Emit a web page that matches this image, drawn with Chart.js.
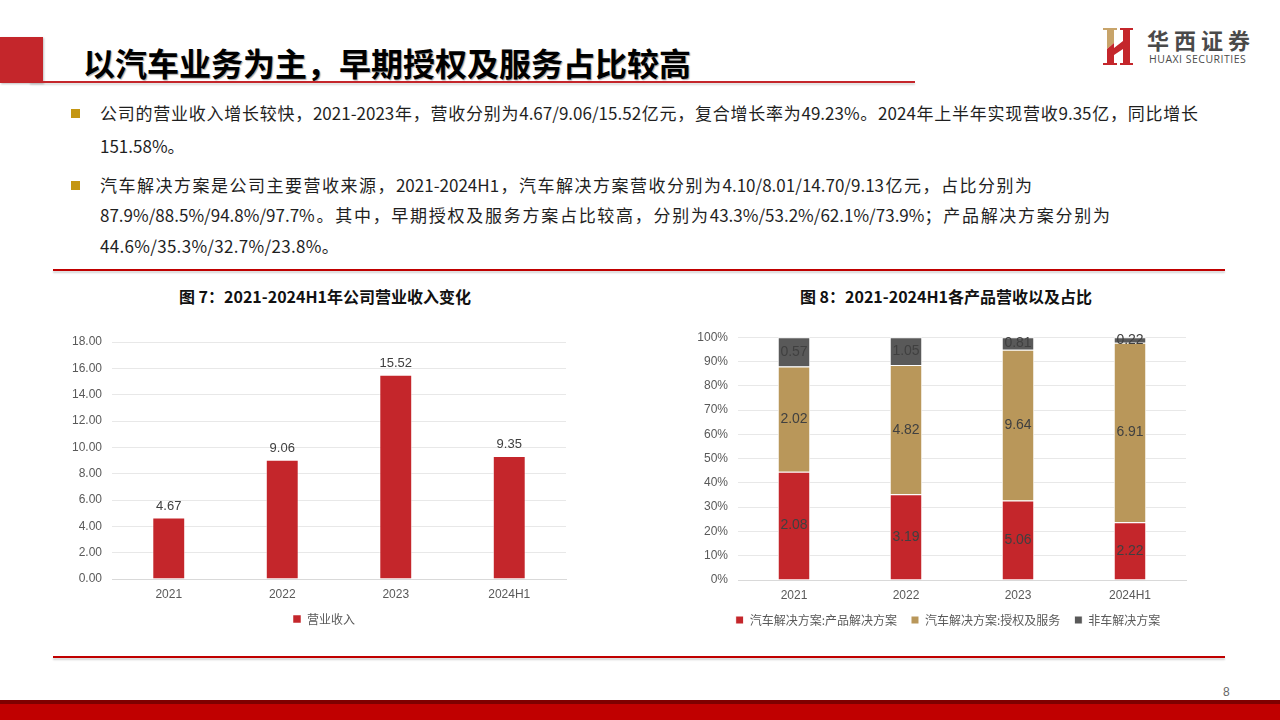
<!DOCTYPE html>
<html>
<head>
<meta charset="UTF-8">
<title>以汽车业务为主，早期授权及服务占比较高</title>
<script src="https://cdn.jsdelivr.net/npm/chart.js@4.4.1/dist/chart.umd.min.js"></script>
<style>
  body { margin:0; width:1280px; height:720px; position:relative; overflow:hidden; background:#fff;
         font-family:"Noto Sans CJK SC","Noto Sans",sans-serif; color:#1f1f1f; }
  .abs { position:absolute; }
  .redline { position:absolute; height:2px; background:#C00000; box-shadow:0 2px 2px rgba(0,0,0,0.18); }
  .line { position:absolute; left:100px; font-size:17px; line-height:22px; white-space:nowrap; }
  .just { white-space:normal; text-align:justify; text-align-last:justify; height:22px; overflow:visible; }
  .dot { position:absolute; left:71px; width:9px; height:9px; background:#C49612; }
  .ctitle { position:absolute; top:285px; font-size:16px; font-weight:700; line-height:22px; color:#111;
            text-align:center; white-space:nowrap; }
</style>
</head>
<body>
<!-- header -->
<div class="abs" style="left:0;top:37px;width:43px;height:46px;background:#C4262B;box-shadow:1px 1px 2px rgba(0,0,0,0.25);"></div>
<div class="abs" style="left:83px;top:40px;font-size:32px;font-weight:700;line-height:44px;color:#000;white-space:nowrap;text-shadow:1px 1px 1px rgba(0,0,0,0.35);">以汽车业务为主，早期授权及服务占比较高</div>
<div class="abs" style="left:30px;top:81px;width:885px;height:2px;background:#C4262B;box-shadow:0 2px 2px rgba(0,0,0,0.15);"></div>

<!-- logo -->
<svg class="abs" style="left:1103px;top:28px;" width="30" height="37" viewBox="0 0 30 37">
  <polygon fill="#C8A46A" points="0,0 14,0 14,2 11,2 11,15 4,21 4,2 0,2"/>
  <polygon fill="#C4262B" points="4,21 11,15 11,35 14,35 14,37 0,37 0,35 4,35"/>
  <polygon fill="#C4262B" points="17,0 30,0 30,2 27,2 27,35 30,35 30,37 17,37 17,35 20,35 20,21 11,27 11,20 20,13 20,2 17,2"/>
</svg>
<div class="abs" style="left:1147px;top:26px;font-size:22px;font-weight:700;letter-spacing:5px;line-height:26px;color:#4a4a4a;white-space:nowrap;">华西证券</div>
<div class="abs" style="left:1149px;top:53px;font-size:10.5px;line-height:12px;color:#4a4a4a;font-family:'Open Sans','Liberation Sans',sans-serif;letter-spacing:0.5px;white-space:nowrap;">HUAXI SECURITIES</div>

<!-- bullets -->
<div class="dot" style="top:109px;"></div>
<div class="line just" style="top:102px;width:1098px;">公司的营业收入增长较快，2021-2023年，营收分别为4.67/9.06/15.52亿元，复合增长率为49.23%。2024年上半年实现营收9.35亿，同比增长</div>
<div class="line" style="top:135px;">151.58%。</div>
<div class="dot" style="top:181px;"></div>
<div class="line just" style="top:174px;width:932px;">汽车解决方案是公司主要营收来源，2021-2024H1，汽车解决方案营收分别为4.10/8.01/14.70/9.13亿元，占比分别为</div>
<div class="line just" style="top:204px;width:1010px;">87.9%/88.5%/94.8%/97.7%。其中，早期授权及服务方案占比较高，分别为43.3%/53.2%/62.1%/73.9%；产品解决方案分别为</div>
<div class="line" style="top:235px;letter-spacing:0.3px;">44.6%/35.3%/32.7%/23.8%。</div>

<div class="redline" style="left:53px;top:269px;width:1172px;"></div>

<!-- chart titles -->
<div class="ctitle" style="left:125px;width:400px;">图 7：2021-2024H1年公司营业收入变化</div>
<div class="ctitle" style="left:746px;width:400px;">图 8：2021-2024H1各产品营收以及占比</div>

<div class="abs" style="left:60px;top:320px;width:528px;height:315px;"><canvas id="revChart" width="528" height="315"></canvas></div>
<div class="abs" style="left:660px;top:320px;width:576px;height:316px;"><canvas id="mixChart" width="576" height="316"></canvas></div>

<div class="redline" style="left:53px;top:656px;width:1172px;"></div>

<!-- footer -->
<div class="abs" style="left:1223px;top:684px;font-size:12px;line-height:16px;color:#666;font-family:'Liberation Sans',sans-serif;">8</div>
<div class="abs" style="left:0;top:700px;width:1280px;height:4px;background:#7F0000;"></div>
<div class="abs" style="left:0;top:704px;width:1280px;height:16px;background:#C00000;"></div>

<script>
var years = ['2021', '2022', '2023', '2024H1'];

// 图7 营业收入（亿元）
var revenue = [4.67, 9.06, 15.52, 9.35];
var revMax = 18, revStep = 2;

// 图8 占比（%）与营收（亿元）
var productShare = [44.6, 35.3, 32.7, 23.8];
var licenseShare = [43.3, 53.2, 62.1, 73.9];
var nonCarShare = [12.1, 11.5, 5.2, 2.3];
var productRev = [2.08, 3.19, 5.06, 2.22];
var licenseRev = [2.02, 4.82, 9.64, 6.91];
var nonCarRev = [0.57, 1.05, 0.81, 0.22];
var seriesNames = ['汽车解决方案:产品解决方案', '汽车解决方案:授权及服务', '非车解决方案'];

var RED = '#C4262B', GOLD = '#B9975A', GRAY = '#595959';
var tickFont = {family: "'Liberation Sans', Arial, sans-serif", size: 12};
var legendFont = {family: "'Noto Sans CJK SC', sans-serif", size: 12};

// draws the numbers on the bars
var valueLabels = {
    id: 'valueLabels',
    afterDatasetsDraw: function (chart, args, opts) {
        var ctx = chart.ctx;
        ctx.save();
        ctx.font = opts.size + "px 'Liberation Sans', Arial, sans-serif";
        ctx.fillStyle = '#404040';
        ctx.textAlign = 'center';
        chart.data.datasets.forEach(function (ds, i) {
            var meta = chart.getDatasetMeta(i);
            meta.data.forEach(function (bar, j) {
                var txt = (ds.amounts ? ds.amounts[j] : ds.data[j]).toFixed(2);
                if (opts.inside) {
                    ctx.textBaseline = 'middle';
                    ctx.fillText(txt, bar.x, (bar.y + bar.base) / 2);
                } else {
                    ctx.textBaseline = 'bottom';
                    ctx.fillText(txt, bar.x, bar.y - 5);
                }
            });
        });
        ctx.restore();
    }
};

// legend in the original sits a bit right of the canvas centre
var shiftLegend = {
    id: 'shiftLegend',
    afterLayout: function (chart, args, opts) {
        if (chart.legend) {
            chart.legend.left += opts.dx;
            chart.legend.right += opts.dx;
        }
    }
};

Chart.defaults.color = '#595959';
Chart.defaults.animation = false;

new Chart(document.getElementById('revChart'), {
    type: 'bar',
    data: {
        labels: years,
        datasets: [{
            label: '营业收入',
            data: revenue,
            backgroundColor: RED,
            borderColor: 'rgba(255,255,255,0.5)',
            borderWidth: 1,
            barPercentage: 1,
            categoryPercentage: 0.29
        }]
    },
    plugins: [valueLabels, shiftLegend],
    options: {
        responsive: false,
        layout: {padding: {top: 22, right: 22, bottom: 0, left: 0}},
        plugins: {
            valueLabels: {size: 13, inside: false},
            shiftLegend: {dx: 11},
            tooltip: {enabled: false},
            legend: {
                position: 'bottom',
                labels: {boxWidth: 8, boxHeight: 8, padding: 10, font: legendFont, color: '#595959'}
            }
        },
        scales: {
            x: {
                grid: {display: false, drawTicks: false},
                border: {color: '#D9D9D9'},
                ticks: {font: tickFont, padding: 8, color: '#595959'},
                afterFit: function (s) { s.height = 24; }
            },
            y: {
                min: 0, max: revMax,
                grid: {color: '#E8E8E8', drawTicks: false},
                border: {display: false},
                ticks: {stepSize: revStep, font: tickFont, padding: 10, color: '#595959',
                    callback: function (v) { return v.toFixed(2); }},
                afterFit: function (s) { s.width = 52; }
            }
        }
    }
});

new Chart(document.getElementById('mixChart'), {
    type: 'bar',
    data: {
        labels: years,
        datasets: [
            {label: seriesNames[0], data: productShare, amounts: productRev, backgroundColor: RED},
            {label: seriesNames[1], data: licenseShare, amounts: licenseRev, backgroundColor: GOLD},
            {label: seriesNames[2], data: nonCarShare, amounts: nonCarRev, backgroundColor: GRAY}
        ].map(function (d) {
            d.borderColor = '#ffffff';
            d.borderWidth = 1;
            d.barPercentage = 1;
            d.categoryPercentage = 0.29;
            return d;
        })
    },
    plugins: [valueLabels, shiftLegend],
    options: {
        responsive: false,
        layout: {padding: {top: 17, right: 50, bottom: 0, left: 0}},
        plugins: {
            valueLabels: {size: 14, inside: true},
            shiftLegend: {dx: 25},
            tooltip: {enabled: false},
            legend: {
                position: 'bottom',
                labels: {boxWidth: 8, boxHeight: 8, padding: 14, font: legendFont, color: '#595959'}
            }
        },
        scales: {
            x: {
                stacked: true,
                grid: {display: false, drawTicks: false},
                border: {color: '#D9D9D9'},
                ticks: {font: tickFont, padding: 8, color: '#595959'},
                afterFit: function (s) { s.height = 20; }
            },
            y: {
                stacked: true,
                min: 0, max: 100,
                grid: {color: '#E8E8E8', drawTicks: false},
                border: {display: false},
                ticks: {stepSize: 10, font: tickFont, padding: 10, color: '#595959',
                    callback: function (v) { return v + '%'; }},
                afterFit: function (s) { s.width = 78; }
            }
        }
    }
});
</script>
</body>
</html>
